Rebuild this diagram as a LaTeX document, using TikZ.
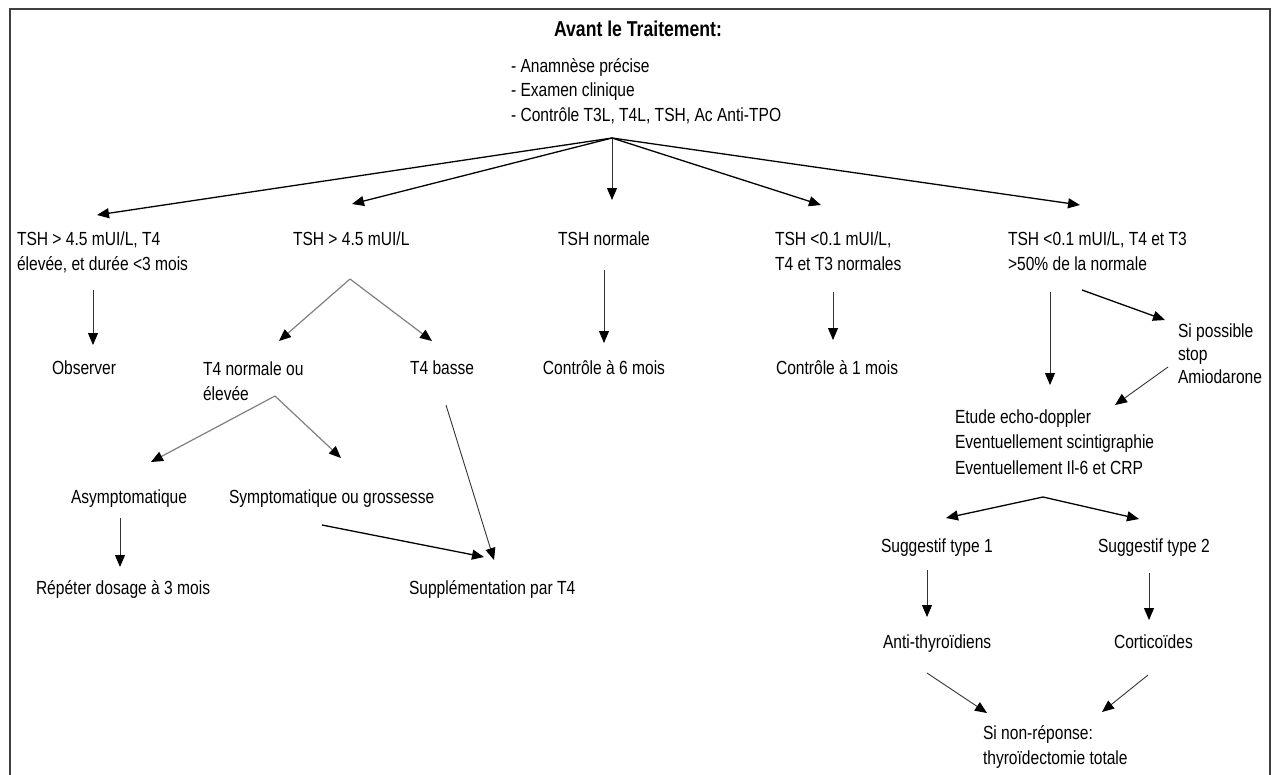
\documentclass[tikz,border=0pt]{standalone}
\usepackage{fontspec}
\setmainfont{Liberation Sans}[FakeStretch=0.82]
\usetikzlibrary{arrows.meta}
\begin{document}
\begin{tikzpicture}[x=1pt,y=-1pt,
  txt/.style={inner sep=0pt,outer sep=0pt,anchor=base west,align=left,
    font=\fontsize{19}{24.5}\selectfont},
  ctxt/.style={txt,anchor=base,align=center},
  conn/.style={line width=1.3pt,draw=black,-{Triangle[length=12pt,width=10pt]}},
  gconn/.style={line width=1.2pt,draw=black!50,-{Triangle[length=12pt,width=10pt,color=black]}},
  tconn/.style={line width=0.9pt,draw=black!80,-{Triangle[length=12pt,width=10pt,color=black]}},
  frame/.style={line width=2pt,draw=black!75}]
\useasboundingbox (0,0) rectangle (1273,774);
% frame
\draw[frame] (10,775) -- (10,9) -- (1270,9) -- (1270,775);

% texts (multi-line nodes: anchor is the baseline of the last line)
\node[ctxt,font=\fontsize{21.5}{26}\selectfont\bfseries] (title) at (638,36) {Avant le Traitement:};
\node[txt] (list) at (511,121) {- Anamnèse précise\\- Examen clinique\\- Contrôle T3L, T4L, TSH, Ac Anti-TPO};

\node[txt] (n1) at (17,270) {TSH > 4.5 mUI/L, T4\\élevée, et durée <3 mois};
\node[txt] (n2) at (293,245) {TSH > 4.5 mUI/L};
\node[ctxt] (n3) at (604,245) {TSH normale};
\node[txt] (n4) at (775,270) {TSH <0.1 mUI/L,\\T4 et T3 normales};
\node[txt] (n5) at (1008,270) {TSH <0.1 mUI/L, T4 et T3\\>50\% de la normale};

\node[txt] (obs) at (52,374) {Observer};
\node[txt] (t4n) at (203,400) {T4 normale ou\\élevée};
\node[txt] (t4b) at (410,374) {T4 basse};
\node[ctxt] (c6) at (604,374) {Contrôle à 6 mois};
\node[txt] (c1) at (776,374) {Contrôle à 1 mois};
\node[txt,font=\fontsize{19}{23}\selectfont] (stop) at (1178,383) {Si possible\\stop\\Amiodarone};

\node[txt,font=\fontsize{19}{25.5}\selectfont] (etude) at (955,474) {Etude echo-doppler\\Eventuellement scintigraphie\\Eventuellement Il-6 et CRP};

\node[txt] (asym) at (71,503) {Asymptomatique};
\node[txt] (sym) at (229,503) {Symptomatique ou grossesse};
\node[txt] (rep) at (36,594) {Répéter dosage à 3 mois};
\node[txt] (supp) at (409,594) {Supplémentation par T4};

\node[txt] (s1) at (881,552) {Suggestif type 1};
\node[txt] (s2) at (1098,552) {Suggestif type 2};
\node[txt] (anti) at (883,648) {Anti-thyroïdiens};
\node[txt] (cort) at (1114,648) {Corticoïdes};
\node[txt,font=\fontsize{19}{25}\selectfont] (nonrep) at (983,764) {Si non-réponse:\\thyroïdectomie totale};

% connector points
\coordinate (A) at (612,138);
\coordinate (a1) at (97,215);
\coordinate (a2) at (352,204);
\coordinate (a3) at (612,200);
\coordinate (a4) at (821,205);
\coordinate (a5) at (1080,205);

\coordinate (obsS) at (93,290);   \coordinate (obsE) at (93,345);
\coordinate (F1) at (350,279);
\coordinate (t4nE) at (279,341);  \coordinate (t4bE) at (432,341);
\coordinate (F2) at (275,396);
\coordinate (asymE) at (151,462); \coordinate (symE) at (341,458);
\coordinate (asymS) at (120,518); \coordinate (repE) at (120,567);
\coordinate (symS) at (322,525);  \coordinate (suppE1) at (484,557);
\coordinate (t4bS) at (446,405);  \coordinate (suppE2) at (494,560);
\coordinate (c6S) at (604,270);   \coordinate (c6E) at (604,343);
\coordinate (c1S) at (833,292);   \coordinate (c1E) at (833,340);
\coordinate (n5S) at (1050,292);  \coordinate (etE) at (1050,385);
\coordinate (n5S2) at (1082,290); \coordinate (stopE) at (1165,320);
\coordinate (stopS) at (1168,367);\coordinate (etE2) at (1115,405);
\coordinate (F3) at (1043,497);
\coordinate (s1E) at (946,518);   \coordinate (s2E) at (1139,519);
\coordinate (s1S) at (927,570);   \coordinate (antiE) at (927,617);
\coordinate (s2S) at (1149,573);  \coordinate (cortE) at (1149,620);
\coordinate (antiS) at (927,673); \coordinate (nrE1) at (987,713);
\coordinate (cortS) at (1148,675);\coordinate (nrE2) at (1102,712);

% connectors
\draw[conn] (A) -- (a1);
\draw[conn] (A) -- (a2);
\draw[tconn] (A) -- (a3);
\draw[conn] (A) -- (a4);
\draw[conn] (A) -- (a5);

\draw[tconn] (obsS) -- (obsE);
\draw[gconn] (F1) -- (t4nE);
\draw[gconn] (F1) -- (t4bE);
\draw[gconn] (F2) -- (asymE);
\draw[gconn] (F2) -- (symE);
\draw[tconn] (asymS) -- (repE);
\draw[conn] (symS) -- (suppE1);
\draw[tconn] (t4bS) -- (suppE2);
\draw[tconn] (c6S) -- (c6E);
\draw[tconn] (c1S) -- (c1E);
\draw[tconn] (n5S) -- (etE);
\draw[conn] (n5S2) -- (stopE);
\draw[tconn] (stopS) -- (etE2);
\draw[conn] (F3) -- (s1E);
\draw[conn] (F3) -- (s2E);
\draw[tconn] (s1S) -- (antiE);
\draw[tconn] (s2S) -- (cortE);
\draw[tconn] (antiS) -- (nrE1);
\draw[tconn] (cortS) -- (nrE2);
\end{tikzpicture}
\end{document}
